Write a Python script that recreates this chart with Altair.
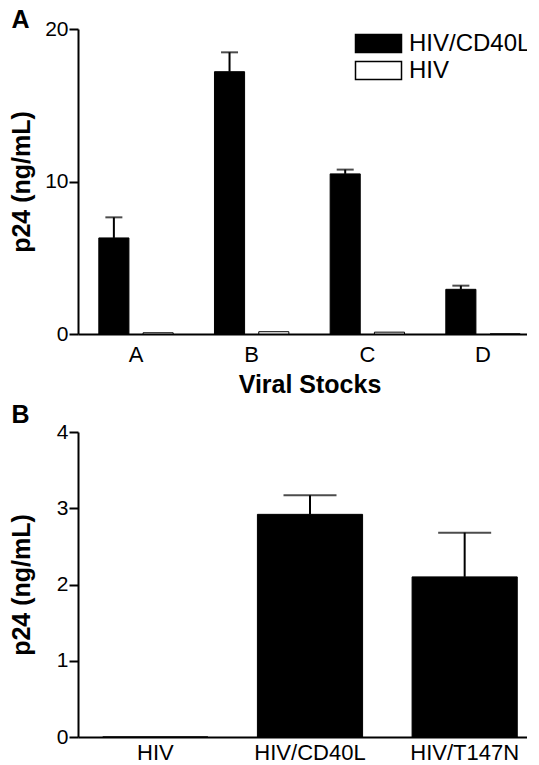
import altair as alt
import pandas as pd

FONT = "Liberation Sans"

# ---- Panel A data ----
stocks = ["A", "B", "C", "D"]
series = ["HIV/CD40L", "HIV"]
cd40l_mean = [6.3, 17.2, 10.5, 2.93]
cd40l_upper = [7.65, 18.47, 10.78, 3.17]
hiv_mean = [0.08, 0.15, 0.12, 0.0]

# ---- Panel B data ----
b_groups = ["HIV", "HIV/CD40L", "HIV/T147N"]
b_mean = [0.0, 2.92, 2.10]
b_upper = [0.0, 3.17, 2.68]

dfA = pd.DataFrame({
    "stock": stocks * 2,
    "series": [series[0]] * len(stocks) + [series[1]] * len(stocks),
    "value": cd40l_mean + hiv_mean,
})
dfA_err = pd.DataFrame({
    "stock": stocks,
    "series": [series[0]] * len(stocks),
    "value": cd40l_mean,
    "upper": cd40l_upper,
})
dfB = pd.DataFrame({"group": b_groups, "value": b_mean, "upper": b_upper})

WA = 463
WB = 464
H = 305

xA = alt.X("stock:N", sort=stocks,
           scale=alt.Scale(paddingInner=0.357, paddingOuter=0.18),
           axis=alt.Axis(title="Viral Stocks", ticks=False, labelAngle=0,
                         labelPadding=10, titlePadding=7))
xoA = alt.XOffset("series:N", sort=series,
                  scale=alt.Scale(domain=series, paddingInner=0.32, paddingOuter=0))
yA = alt.Y("value:Q", scale=alt.Scale(domain=[0, 20]),
           axis=alt.Axis(values=[0, 10, 20], format="d", title="p24 (ng/mL)",
                         titlePadding=10.2, labelPadding=1))

legend = alt.Legend(
    title=None, orient="none", legendX=288, legendY=2,
    symbolType="M-2,-0.78L2,-0.78L2,0.78L-2,0.78Z", symbolSize=529,
    symbolStrokeColor="black", symbolStrokeWidth=1.5,
    labelFont=FONT, labelFontSize=24, labelColor="black", labelOffset=18,
    rowPadding=2, labelLimit=300,
)

barsA = alt.Chart(dfA).mark_bar(stroke="black", strokeWidth=1).encode(
    x=xA, xOffset=xoA, y=yA,
    color=alt.Color("series:N", sort=series,
                    scale=alt.Scale(domain=series, range=["black", "white"]),
                    legend=legend),
)
ruleA = alt.Chart(dfA_err).mark_rule(color="black", strokeWidth=2).encode(
    x=xA, xOffset=xoA, y="value:Q", y2="upper:Q")
capA = alt.Chart(dfA_err).mark_tick(color="black", thickness=2, size=17).encode(
    x=xA, xOffset=xoA, y="upper:Q")

panelA = alt.layer(barsA, ruleA, capA).properties(
    width=WA, height=H,
    title=alt.TitleParams("A", anchor="start", frame="bounds", font=FONT,
                          fontSize=25, fontWeight="bold", color="black",
                          dx=2, dy=15, offset=0),
)

xB = alt.X("group:N", sort=b_groups,
           scale=alt.Scale(paddingInner=0.32, paddingOuter=0.16),
           axis=alt.Axis(title=None, ticks=False, labelAngle=0, labelPadding=5))
yB = alt.Y("value:Q", scale=alt.Scale(domain=[0, 4]),
           axis=alt.Axis(values=[0, 1, 2, 3, 4], format="d", title="p24 (ng/mL)",
                         titlePadding=21.9, labelPadding=1))

barsB = alt.Chart(dfB).mark_bar(color="black", stroke="black", strokeWidth=1).encode(
    x=xB, y=yB)
errB = alt.Chart(dfB).transform_filter("datum.upper > datum.value")
ruleB = errB.mark_rule(color="black", strokeWidth=2).encode(x=xB, y="value:Q", y2="upper:Q")
capB = errB.mark_tick(color="black", thickness=2, size=53).encode(x=xB, y="upper:Q")

panelB = alt.layer(barsB, ruleB, capB).properties(
    width=WB, height=H,
    title=alt.TitleParams("B", anchor="start", frame="bounds", font=FONT,
                          fontSize=25, fontWeight="bold", color="black",
                          dx=2, dy=6.5, offset=0),
)

chart = alt.vconcat(panelA, panelB, spacing=5).properties(
    padding={"left": 1, "top": 0, "right": -15, "bottom": 0}
).configure_axis(
    domainColor="black", domainWidth=2, tickColor="black", tickWidth=2, tickSize=9,
    labelFont=FONT, labelFontSize=21, labelColor="black",
    titleFont=FONT, titleFontSize=25, titleFontWeight="bold", titleColor="black",
    grid=False,
).configure_axisX(labelFontSize=22).configure_view(stroke=None)

chart.save("out.html", embed_options={"renderer": "svg", "actions": False})
